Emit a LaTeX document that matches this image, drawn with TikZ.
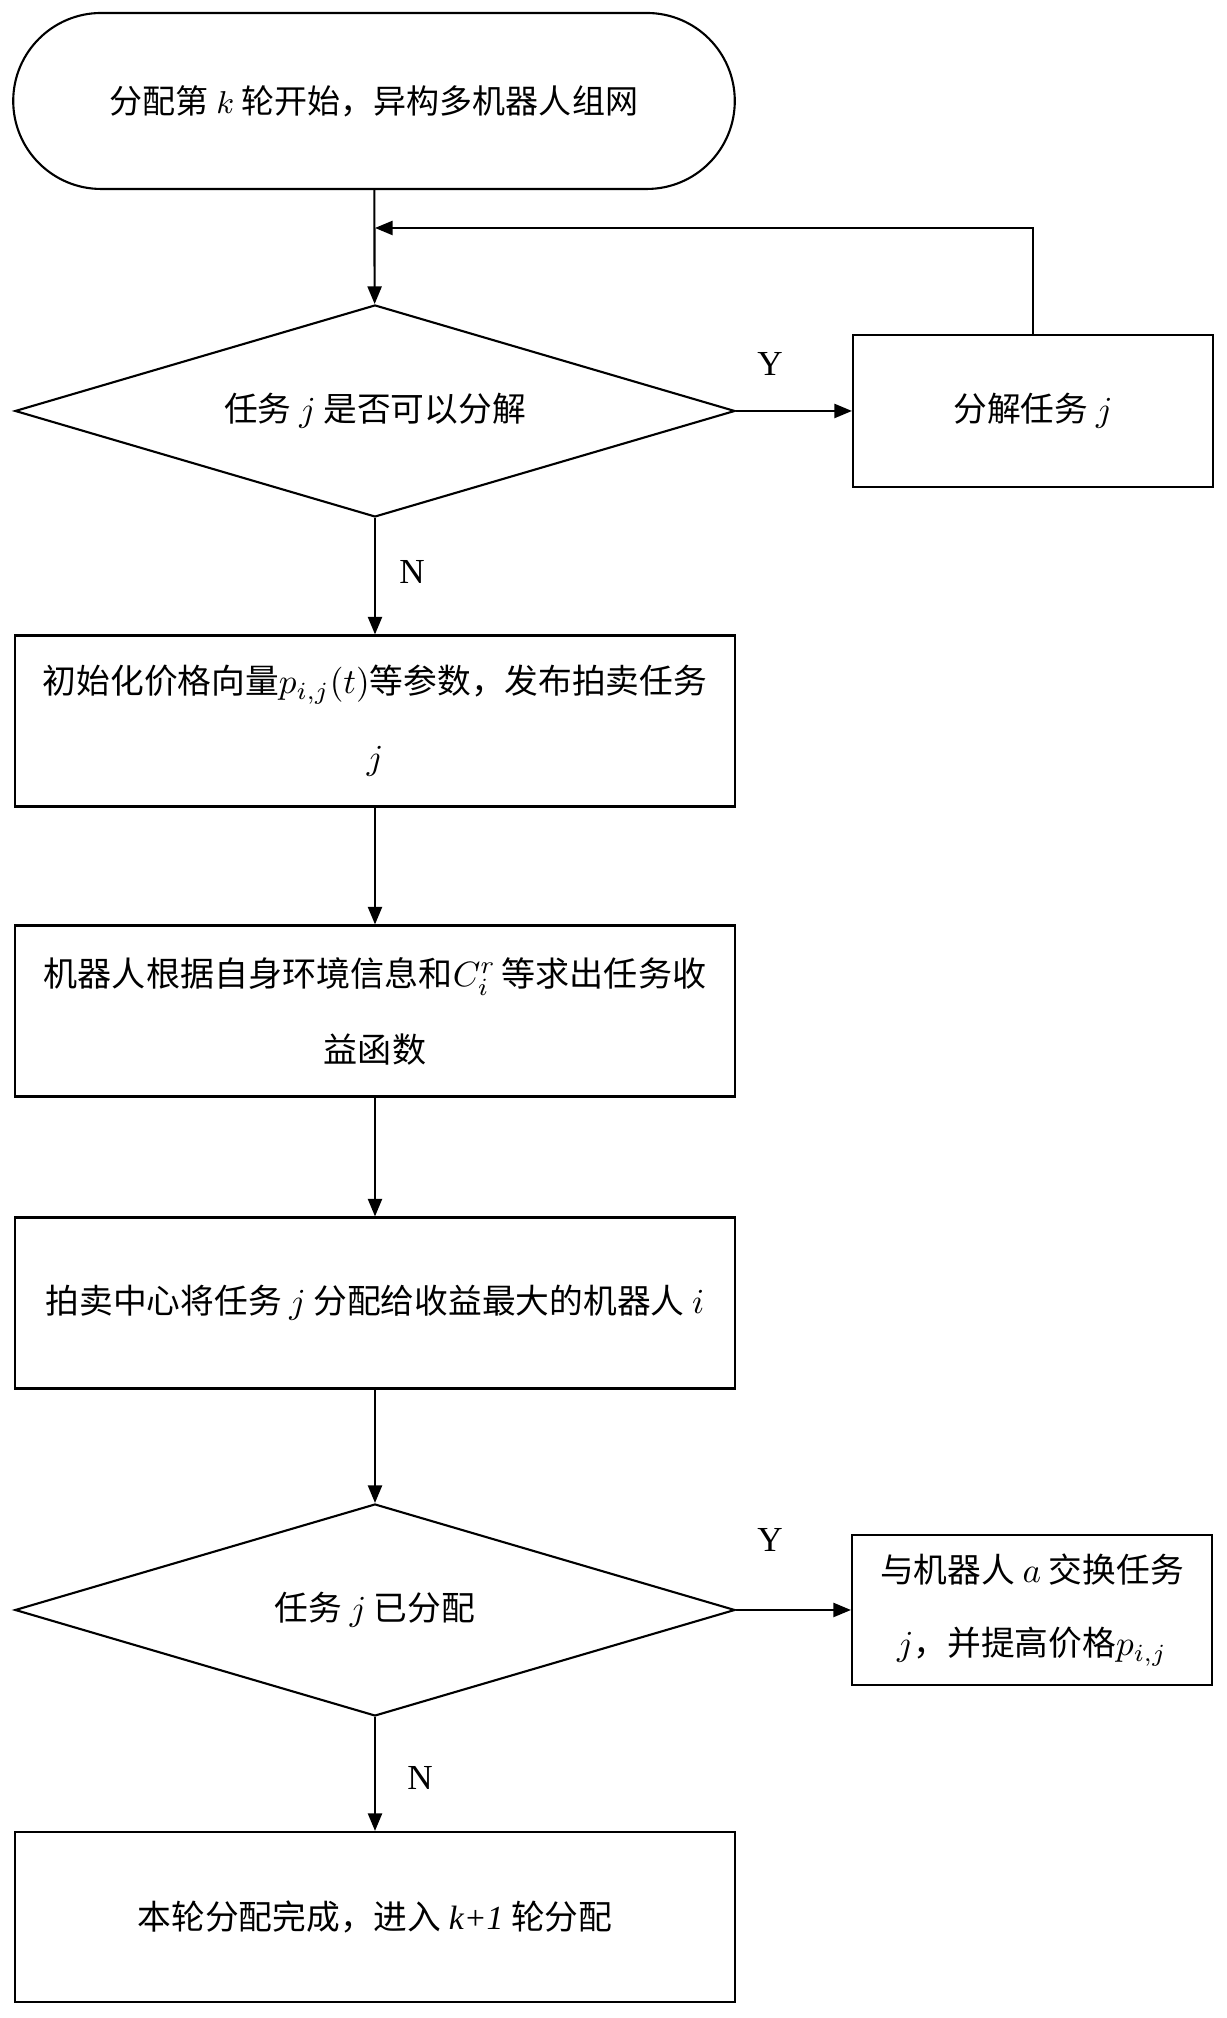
\documentclass[tikz,border=0pt]{standalone}
\usepackage{amsmath,amssymb}
\usepackage{fontspec}
\setmainfont{Liberation Serif}
\newfontfamily\cjk{Noto Sans CJK SC}
\usetikzlibrary{arrows.meta,shapes.geometric,shapes.misc}

\begin{document}
\begin{tikzpicture}[
    every node/.style={font=\cjk\fontsize{9.6pt}{21pt}\selectfont},
    procbox/.style={draw, line width=0.6pt, minimum width=7.2cm, minimum height=1.71cm, align=center, inner sep=0pt},
    sidebox/.style={draw, line width=0.6pt, minimum width=3.6cm, minimum height=1.52cm, align=center, inner sep=0pt},
    decision/.style={draw, diamond, line width=0.6pt, minimum width=7.2cm, minimum height=2.12cm, aspect=3.4, inner sep=0pt},
    yn/.style={font=\rmfamily\fontsize{10pt}{12pt}\selectfont},
    flow/.style={line width=0.6pt, -{Triangle[width=4pt,length=5pt]}}
]
    % Page frame
    \useasboundingbox (0,0) rectangle (12.27,20.18);

    % Start
    \node[draw, rounded rectangle, line width=0.6pt, minimum width=7.45cm, minimum height=1.76cm,
          font=\cjk\fontsize{9.4pt}{12pt}\selectfont] (start) at (3.74,19.17) {分配第 $k$ 轮开始，异构多机器人组网};

    % Decomposition check
    \node[decision] (dec1) at (3.75,16.07) {任务 $j$ 是否可以分解};
    \node[sidebox] (split) at (10.33,16.07) {分解任务 $j$};
    \coordinate (back) at (3.75,17.90);

    % Main steps
    \node[procbox, font=\cjk\fontsize{9.6pt}{21.6pt}\selectfont] (init) at (3.75,12.97)
        {初始化价格向量$p_{i,j}(t)$等参数，发布拍卖任务\\$j$};
    \node[procbox, font=\cjk\fontsize{9.7pt}{21.6pt}\selectfont] (calc) at (3.75,10.07)
        {机器人根据自身环境信息和$C_i^r$\,等求出任务收\\益函数};
    \node[procbox] (assign) at (3.75,7.15) {拍卖中心将任务 $j$ 分配给收益最大的机器人 $i$};

    % Assignment check
    \node[decision] (dec2) at (3.75,4.08) {任务 $j$ 已分配};
    \node[sidebox, minimum height=1.5cm, font=\cjk\fontsize{9.6pt}{20.8pt}\selectfont] (swap) at (10.32,4.08)
        {与机器人 $a$ 交换任务\\$j$，并提高价格$p_{i,j}$};

    % End
    \node[procbox, minimum height=1.7cm] (done) at (3.75,1.01) {本轮分配完成，进入 {\rmfamily\itshape k+1} 轮分配};

    % Labels
    \node[yn] (y1) at (7.70,16.54) {Y};
    \node[yn] (n1) at (4.12,14.46) {N};
    \node[yn] (y2) at (7.70,4.78) {Y};
    \node[yn] (n2) at (4.20,2.40) {N};

    % Arrows
    \draw[flow] (start) -- (dec1);
    \draw[flow] (dec1) -- (split);
    \draw[flow] (split.north) |- (back);
    \draw[flow] (dec1) -- (init);
    \draw[flow] (init) -- (calc);
    \draw[flow] (calc) -- (assign);
    \draw[flow] (assign) -- (dec2);
    \draw[flow] (dec2) -- (swap);
    \draw[flow] (dec2) -- (done);
\end{tikzpicture}
\end{document}
